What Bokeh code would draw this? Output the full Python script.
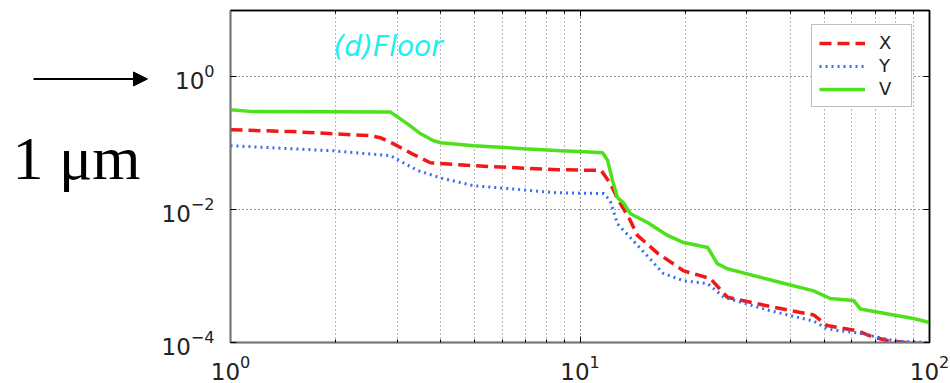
from bokeh.plotting import figure
from bokeh.models import (FixedTicker, LogAxis, Legend, LegendItem, Arrow,
                          NormalHead, Label, LogTickFormatter,
                          CustomJSTickFormatter)
from bokeh.layouts import row
from bokeh.embed import file_html
from bokeh.resources import INLINE
from bokeh.core.properties import value

# ---- data ----
freq_x = [1.0, 1.5, 1.97, 2.52, 2.7, 2.93, 3.3, 3.73, 4.96, 8.6, 11.5, 12.2,
          12.9, 13.8, 14.6, 16.7, 19.8, 23.6, 26.4, 35.8, 46.6, 51.0, 62.2,
          69.2, 75.9, 85.0, 100.0]
disp_x = [0.16, 0.15, 0.139, 0.13, 0.12, 0.098, 0.07, 0.051, 0.046, 0.040,
          0.039, 0.025, 0.0137, 0.0076, 0.0041, 0.0022, 0.0012, 0.00092,
          0.00048, 0.00034, 0.00026, 0.00018, 0.00015, 0.00012, 0.000107,
          0.0001, 0.000095]

freq_y = [1.0, 1.97, 2.87, 3.43, 4.0, 4.96, 8.6, 11.7, 12.2, 12.8, 14.9,
          17.3, 19.8, 23.2, 25.8, 35.1, 46.6, 51.0, 63.4, 80.0, 100.0]
disp_y = [0.092, 0.077, 0.065, 0.039, 0.030, 0.023, 0.018, 0.0175, 0.0137,
          0.0061, 0.0026, 0.0011, 0.00085, 0.00077, 0.00048, 0.0003, 0.00021,
          0.00016, 0.000137, 0.000105, 0.0001]

freq_v = [1.0, 1.16, 2.87, 3.21, 3.5, 3.81, 4.0, 4.96, 6.9, 8.8, 10.0, 11.6,
          12.0, 12.4, 12.8, 13.3, 13.95, 15.6, 17.8, 19.8, 23.2, 24.7, 26.4,
          35.8, 46.6, 52.0, 60.6, 63.4, 78.9, 90.0, 100.0]
disp_v = [0.32, 0.30, 0.295, 0.196, 0.139, 0.109, 0.102, 0.092, 0.083, 0.077,
          0.075, 0.072, 0.055, 0.027, 0.0152, 0.0128, 0.0087, 0.0064, 0.0041,
          0.0032, 0.0027, 0.00154, 0.00129, 0.00085, 0.0006, 0.00046, 0.00043,
          0.00032, 0.00026, 0.00023, 0.0002]

series_labels = ["X", "Y", "V"]
x_major_ticks = [1, 10, 100]
x_minor_ticks = [2, 3, 4, 5, 6, 7, 8, 9, 20, 30, 40, 50, 60, 70, 80, 90]
y_major_ticks = [1e-4, 1e-2, 1]
panel_title = "(d)Floor"
side_label = "1 μm"

TICK_FONT = "DejaVu Sans"

# ---- main plot ----
p = figure(width=800, height=383, x_axis_type="log", y_axis_type="log",
           x_range=(1, 100), y_range=(1e-4, 10),
           output_backend="svg", toolbar_location=None,
           min_border_left=80, min_border_right=21,
           min_border_top=10, min_border_bottom=41)
p.background_fill_color = "white"
p.border_fill_color = "white"
p.outline_line_color = "black"
p.outline_line_width = 1.5

xt = FixedTicker(ticks=x_major_ticks, minor_ticks=x_minor_ticks)
yt = FixedTicker(ticks=y_major_ticks, minor_ticks=[])

for ax in p.xaxis:
    ax.ticker = xt
for ax in p.yaxis:
    ax.ticker = yt

# extra box axes (ticks only)
p.add_layout(LogAxis(ticker=yt), "right")
p.add_layout(LogAxis(ticker=xt), "above")

for ax in p.axis:
    ax.axis_line_color = "#777777"
    ax.axis_line_width = 1.5
    ax.major_tick_in = 6
    ax.major_tick_out = 0
    ax.minor_tick_in = 3
    ax.minor_tick_out = 0
    ax.major_tick_line_color = "black"
    ax.minor_tick_line_color = "black"
    ax.major_label_text_font = TICK_FONT
    ax.major_label_text_font_size = "23px"
    ax.major_label_text_color = "#222222"

p.below[0].formatter = LogTickFormatter()
p.left[0].formatter = LogTickFormatter()
for ax in (p.right[0], p.above[0]):
    ax.formatter = CustomJSTickFormatter(code="return ''")
    ax.major_label_text_font_size = "1px"
    ax.major_label_standoff = 0
    ax.axis_line_color = "black"

p.below[0].major_label_standoff = 12
p.left[0].major_label_standoff = 16

p.xgrid.ticker = xt
p.ygrid.ticker = yt
p.xgrid.grid_line_color = "black"
p.xgrid.grid_line_alpha = 0.9
p.xgrid.grid_line_dash = "1 3"
p.xgrid.minor_grid_line_color = "black"
p.xgrid.minor_grid_line_alpha = 0.55
p.xgrid.minor_grid_line_dash = "1 3"
p.ygrid.grid_line_color = "black"
p.ygrid.grid_line_alpha = 0.8
p.ygrid.grid_line_dash = "1 3"

rx = p.line(freq_x, disp_x, line_color="#f01818", line_width=3.5,
            line_dash="12 6")
ry = p.line(freq_y, disp_y, line_color="#3a6cf0", line_width=3,
            line_dash="2 4")
rv = p.line(freq_v, disp_v, line_color="#4fe01c", line_width=3.5)

legend = Legend(items=[LegendItem(label=series_labels[0], renderers=[rx]),
                       LegendItem(label=series_labels[1], renderers=[ry]),
                       LegendItem(label=series_labels[2], renderers=[rv])],
                location=(581, 235))
legend.label_text_font = TICK_FONT
legend.label_text_font_size = "18px"
legend.label_text_color = "#222222"
legend.glyph_width = 46
legend.glyph_height = 18
legend.label_height = 18
legend.label_width = 25
legend.label_standoff = 14
legend.spacing = 2
legend.padding = 7
legend.border_line_color = "#808080"
legend.border_line_width = 1.5
legend.background_fill_color = "white"
legend.background_fill_alpha = 1.0
p.add_layout(legend)

p.add_layout(Label(x=1.97, y=2.9, text=panel_title, text_font=TICK_FONT,
                   text_font_style="italic", text_font_size="28px",
                   text_color="#22eeee", text_baseline="middle"))

# ---- left annotation panel ----
left = figure(width=150, height=383, x_range=(0, 150), y_range=(383, 0),
              output_backend="svg", toolbar_location=None,
              x_axis_location=None, y_axis_location=None, min_border=0)
left.grid.visible = False
left.outline_line_color = None
left.background_fill_color = "white"
left.border_fill_color = "white"
left.add_layout(Arrow(end=NormalHead(size=14, fill_color="black",
                                     line_color="black"),
                      x_start=33, y_start=79, x_end=147, y_end=79,
                      line_width=2, line_color="black"))
left.text(x=[12], y=[170], text=[side_label],
          text_font=value("Liberation Serif"), text_font_size="62px",
          text_baseline="alphabetic", text_color="black")

layout = row(left, p)
open("out.html", "w").write(file_html(layout, INLINE))
